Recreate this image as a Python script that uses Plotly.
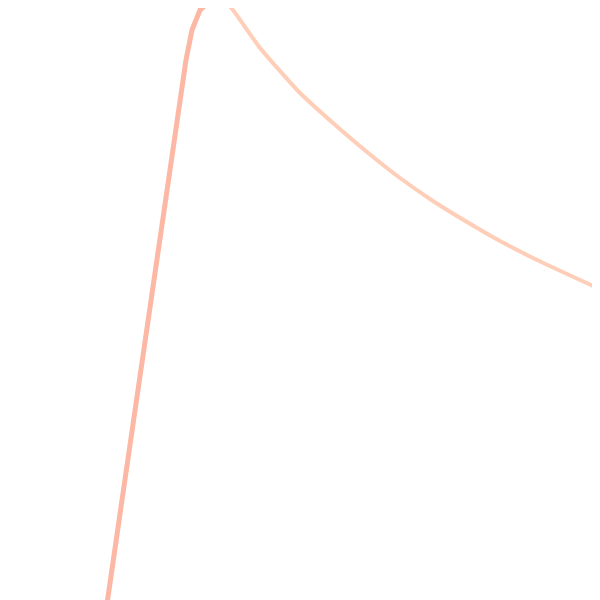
import plotly.graph_objects as go

# rising part of the curve
rise_x = [107, 108, 122, 137, 150, 165, 180, 186, 192, 200, 208, 215, 220]
rise_y = [-3, 3, 100, 203, 300, 400, 500, 540, 570, 590, 597, 600, 601]

# decaying part of the curve
fall_x = [220, 226, 233, 245, 260, 280, 300, 333, 367, 400, 433, 467, 500, 533, 567, 600, 615]
fall_y = [601, 597, 590, 573, 552, 529, 507, 477, 448, 422, 399, 378, 359, 342, 326, 311, 305]

fig = go.Figure()

fig.add_trace(go.Scatter(
    x=rise_x, y=rise_y,
    mode='lines',
    line=dict(color='rgba(252,172,148,0.85)', width=5),
    hoverinfo='skip'
))
fig.add_trace(go.Scatter(
    x=fall_x, y=fall_y,
    mode='lines',
    line=dict(color='rgba(255,198,172,0.85)', width=4, shape='spline', smoothing=0.6),
    hoverinfo='skip'
))

fig.update_layout(
    width=600, height=600,
    margin=dict(l=0, r=0, t=0, b=0),
    paper_bgcolor='white',
    plot_bgcolor='white',
    showlegend=False,
    # page body adds an 8px offset, so the ranges are shifted to compensate
    xaxis=dict(range=[8, 608], visible=False, fixedrange=True),
    yaxis=dict(range=[-8, 592], visible=False, fixedrange=True),
)

fig.write_html("out.html", config=dict(displayModeBar=False))
